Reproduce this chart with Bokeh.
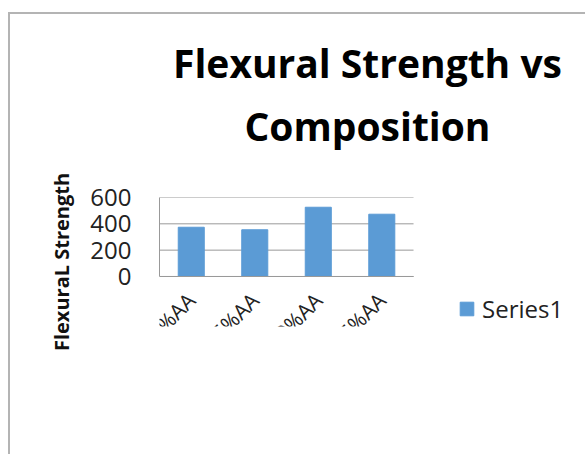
import math
from bokeh.plotting import figure
from bokeh.models import (ColumnDataSource, Legend, LegendItem, FixedTicker, Range1d,
                          LinearAxis)
from bokeh.embed import file_html
from bokeh.resources import INLINE

categories = ["0%AA", "5%AA", "10%AA", "15%AA"]
series1 = [374, 355, 526, 473]
y_ticks = [0, 200, 400, 600]
title_lines = ["Flexural Strength vs", "Composition"]

FONT = "Open Sans"
xs = [i + 1 for i in range(len(categories))]
x_lo, x_hi = 0.5, len(categories) + 0.5
source = ColumnDataSource(dict(x=xs, cat=categories, val=series1))

p = figure(width=577, height=442, x_range=Range1d(0.5, 7.05), y_range=Range1d(-380, 600),
           output_backend="svg", toolbar_location=None, title=None,
           min_border_left=149, min_border_right=12, min_border_top=183, min_border_bottom=130,
           styles={"margin-left": "8px", "margin-top": "12px",
                   "border-top": "2px solid #b4b4b4", "border-left": "2px solid #b4b4b4"})
p.outline_line_color = None
p.xgrid.visible = False
p.ygrid.visible = False

# value gridlines limited to the category span
p.segment(x0=x_lo, x1=x_hi, y0=y_ticks, y1=y_ticks, line_color="#999999", line_width=1)

r = p.vbar(x="x", top="val", width=0.41, source=source, color="#5b9bd5")

p.yaxis.ticker = FixedTicker(ticks=y_ticks)
p.yaxis.bounds = (y_ticks[0], y_ticks[-1])
p.xaxis.ticker = FixedTicker(ticks=xs)
p.xaxis.major_label_overrides = {x: c for x, c in zip(xs, categories)}
p.xaxis.bounds = (x_lo, x_hi)
p.xaxis.fixed_location = 0

for ax in (p.xaxis, p.yaxis):
    ax.axis_line_color = "#999999"
    ax.major_tick_line_color = None
    ax.minor_tick_line_color = None
    ax.major_tick_out = 0
    ax.major_tick_in = 0
    ax.major_label_text_font = FONT
    ax.major_label_text_color = "#222222"
    ax.axis_label_text_font = FONT
    ax.axis_label_text_font_style = "bold"
    ax.axis_label_text_color = "#111111"

p.yaxis.major_label_text_font_size = "24px"
p.yaxis.major_label_standoff = 28
p.yaxis.axis_label = "FlexuraL Strength"
p.yaxis.axis_label_text_font_size = "20px"
p.yaxis.axis_label_standoff = 12

p.xaxis.major_label_text_font_size = "21px"
p.xaxis.major_label_orientation = math.pi / 4
p.xaxis.major_label_standoff = 20
p.xaxis.axis_label = "Compostion"
p.xaxis.axis_label_text_font_size = "22px"
p.xaxis.axis_label_standoff = 10

# chart title, two lines, carried by label-only axes above the plot
for line, standoff in ((title_lines[1], 46), (title_lines[0], 7)):
    tax = LinearAxis(ticker=FixedTicker(ticks=[]), bounds=(0.5, 5.0),
                     axis_line_color=None, major_tick_line_color=None,
                     minor_tick_line_color=None, major_tick_out=0, major_tick_in=0,
                     major_label_standoff=0, axis_label=line,
                     axis_label_standoff=standoff, axis_label_text_font=FONT,
                     axis_label_text_font_style="bold", axis_label_text_font_size="39px",
                     axis_label_text_color="#000000")
    p.add_layout(tax, "above")

legend = Legend(items=[LegendItem(label="Series1", renderers=[r])],
                location=(299, 1), glyph_width=17, glyph_height=17,
                label_text_font=FONT, label_text_font_size="24px", label_text_color="#222222",
                background_fill_alpha=0, border_line_color=None, padding=0, margin=0,
                label_standoff=7)
p.add_layout(legend, "center")

open("out.html", "w").write(file_html(p, INLINE))
